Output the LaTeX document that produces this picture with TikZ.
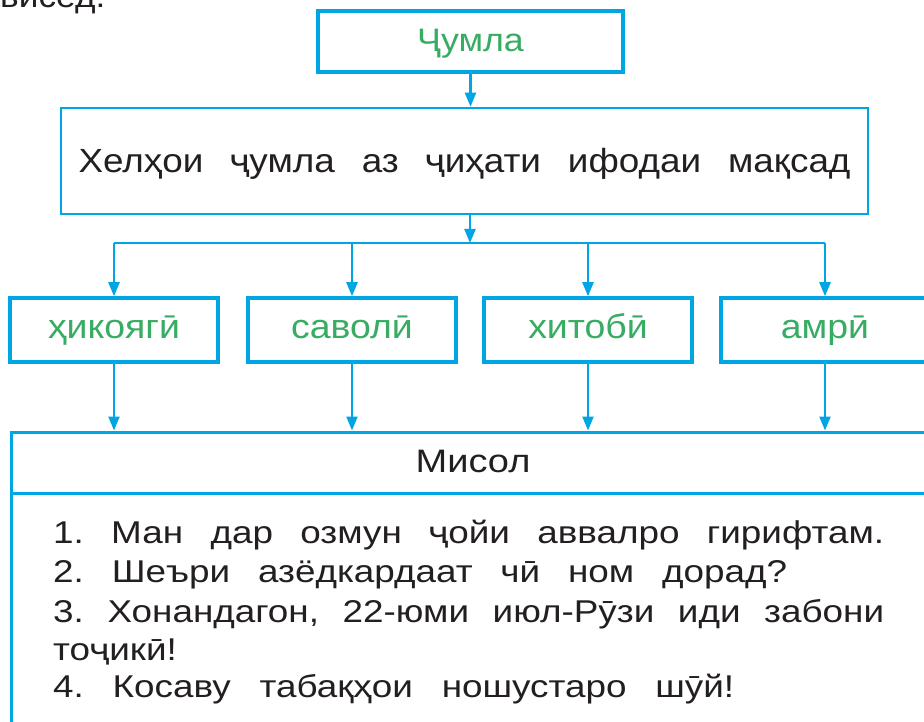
\documentclass[tikz,border=0pt]{standalone}
\usepackage{fontspec}
\setmainfont{Liberation Sans}[FakeStretch=1.1]
\newfontfamily\examplefont{Liberation Sans}[FakeStretch=1.17]
\usetikzlibrary{arrows.meta}

\definecolor{chartblue}{RGB}{0,166,228}
\definecolor{labelgreen}{RGB}{55,172,98}
\definecolor{inkblack}{RGB}{35,31,32}

\tikzset{
  frame/.style={draw=chartblue, rectangle, inner sep=0pt},
  flow/.style={-{Triangle[length=14pt,width=11pt]}, line width=2.2pt, chartblue},
  kind/.style={frame, line width=3.5pt, minimum width=208pt, minimum height=64pt,
    text=labelgreen, font=\fontsize{34}{40}\selectfont, text height=22pt, text depth=6pt},
  body/.style={anchor=base west, inner sep=0pt, text=inkblack, font=\examplefont\fontsize{31.5}{38}\selectfont},
}

\begin{document}
\frenchspacing
\begin{tikzpicture}[x=1pt,y=-1pt]
\useasboundingbox (0,0) rectangle (924,722);
\clip (0,0) rectangle (924,722);
\fill[white] (0,0) rectangle (924,722);

% end of the line above the chart
\node[body, font=\fontsize{32}{38}\selectfont] (intro) at (-39,8) {нависед.};

% top of the chart
\node[frame, line width=4pt, minimum width=305pt, minimum height=61pt, text=labelgreen,
  font=\fontsize{32.5}{40}\selectfont, text height=25pt, text depth=5pt] (jumla) at (470.5,41.5) {Ҷумла};
\node[frame, line width=2.5pt, minimum width=807pt, minimum height=106pt, text=inkblack,
  font=\fontsize{33.5}{40}\selectfont, text height=28pt, text depth=4pt] (kinds) at (464.5,161)
  {\makebox[772pt][s]{Хелҳои ҷумла аз ҷиҳати ифодаи мақсад}};

\coordinate (bus) at (470,243);

% the four kinds
\node[kind] (hikoyagi) at (114,330) {ҳикоягӣ};
\node[kind] (savoli) at (352,330) {саволӣ};
\node[kind] (xitobi) at (588,330) {хитобӣ};
\node[kind] (amri) at (825,330) {амрӣ};

% examples
\node[frame, line width=3pt, minimum width=919pt, minimum height=330pt] (misolbox) at (470.5,597) {};
\coordinate (sep) at (0,493);
\draw[chartblue, line width=3pt] (misolbox.west |- sep) -- (misolbox.east |- sep);
\node[body, anchor=base, font=\examplefont\fontsize{32.5}{38}\selectfont] (misol) at (473,472) {Мисол};

\node[body] (ex1) at (53,543) {\makebox[831pt][s]{1. Ман дар озмун ҷойи аввалро гирифтам.}};
\node[body] (ex2) at (53,582) {\makebox[734pt][s]{2. Шеъри азёдкардаат чӣ ном дорад?}};
\node[body] (ex3) at (53,622) {\makebox[831pt][s]{3. Хонандагон, 22-юми июл-Рӯзи иди забони}};
\node[body] (ex3b) at (53,660) {тоҷикӣ!};
\node[body] (ex4) at (53,697) {\makebox[681pt][s]{4. Косаву табақҳои ношустаро шӯй!}};

% connectors
\draw[flow] (jumla.south) -- (jumla.south |- kinds.north);
\draw[flow] (kinds.south -| bus) -- (bus);
\draw[chartblue, line width=2.2pt] (hikoyagi |- bus) -- (amri |- bus);
\foreach \k in {hikoyagi,savoli,xitobi,amri} {
  \draw[flow] (\k |- bus) -- (\k.north);
  \draw[flow] (\k.south) -- (\k.south |- misolbox.north);
}
\end{tikzpicture}
\end{document}
